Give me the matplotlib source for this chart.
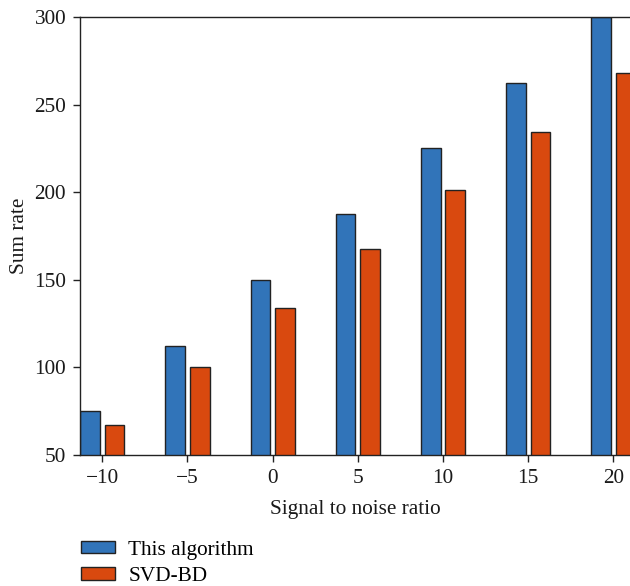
import matplotlib
matplotlib.use("Agg")
import matplotlib.pyplot as plt
import numpy as np

snr = [-10, -5, 0, 5, 10, 15, 20]
this_algorithm = [75, 112.5, 150, 187.5, 225, 262.5, 300]
svd_bd = [67, 100.5, 134, 167.5, 201, 234.5, 268]
series_labels = ["This algorithm", "SVD-BD"]
yticks = [50, 100, 150, 200, 250, 300]

FS = 15.3
plt.rcParams["font.family"] = ["Liberation Serif", "DejaVu Serif"]
plt.rcParams["font.size"] = FS

W, H = 630, 586
fig = plt.figure(figsize=(W / 100, H / 100), dpi=100)
ax = fig.add_axes([80 / W, (H - 455) / H, (630 - 80) / W, 438 / H])

x = np.array(snr, dtype=float)
bw = 1.15
off = 0.72
blue = "#3174b9"
orange = "#d9490f"
edge = "#222222"
b1 = ax.bar(x - off, this_algorithm, width=bw, color=blue, edgecolor=edge,
            linewidth=1.0, label=series_labels[0])
b2 = ax.bar(x + off, svd_bd, width=bw, color=orange, edgecolor=edge,
            linewidth=1.0, label=series_labels[1])

ax.set_xlim(-11.31, 20.98)
ax.set_ylim(50, 300)
ax.set_xticks(snr)
ax.set_xticklabels(["\u221210", "\u22125", "0", "5", "10", "15", "20"])
ax.set_yticks(yticks)
ax.tick_params(direction="out", length=5, width=1.0, colors="#222222",
               labelcolor="#1a1a1a", labelsize=FS, pad=5)
ax.spines["right"].set_visible(False)
for s in ("left", "bottom", "top"):
    ax.spines[s].set_linewidth(1.0)
    ax.spines[s].set_color("#222222")

ax.set_xlabel("Signal to noise ratio", fontsize=FS, color="#1a1a1a", labelpad=9)
ax.set_ylabel("Sum rate", fontsize=FS, color="#1a1a1a", labelpad=4)

fig.legend(handles=[b1, b2], labels=series_labels, loc="upper left",
           bbox_to_anchor=(72 / W, 1 - 532 / H), frameon=False,
           handlelength=1.6, handleheight=0.55, handletextpad=0.65,
           labelspacing=0.35, fontsize=FS, borderaxespad=0)

fig.savefig("out.png", dpi=100)
